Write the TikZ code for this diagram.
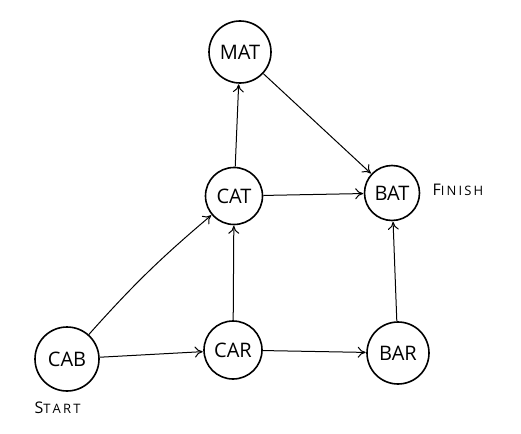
\documentclass[tikz,border=0pt]{standalone}
\usepackage{fontspec}
\setmainfont{Open Sans}
\usetikzlibrary{arrows.meta}
\begin{document}
\begin{tikzpicture}[x=1pt,y=-1pt,
  word/.style={circle,draw=black,line width=1.6pt,minimum size=#1,inner sep=0pt,font=\fontsize{20}{20}\selectfont},
  edge/.style={line width=1pt,-{To[length=8pt,width=11pt]},shorten >=0.5pt},
  tag/.style={font=\fontsize{16}{16}\selectfont}]
\useasboundingbox (0,0) rectangle (521,433);
\node[word=62pt] (mat) at (240,52) {MAT};
\node[word=57pt] (cat) at (234,196) {CAT};
\node[word=55pt] (bat) at (392,193) {BAT};
\node[word=64pt] (cab) at (67,359) {CAB};
\node[word=58pt] (car) at (233,350) {CAR};
\node[word=62pt] (bar) at (398,353) {BAR};
\node[tag,anchor=west] (finish) at (429,190) {F{\fontsize{13}{13}\selectfont I\,N\,I\,S\,H}};
\node[tag,anchor=west] (start) at (31,408) {S{\fontsize{13}{13}\selectfont T\,A\,R\,T}};
\draw[edge] (cab) to[bend left=4] (cat);
\draw[edge] (cab) -- (car);
\draw[edge] (car) -- (cat);
\draw[edge] (car) -- (bar);
\draw[edge] (cat) -- (mat);
\draw[edge] (cat) -- (bat);
\draw[edge] (mat) -- (bat);
\draw[edge] (bar) -- (bat);
\end{tikzpicture}
\end{document}
